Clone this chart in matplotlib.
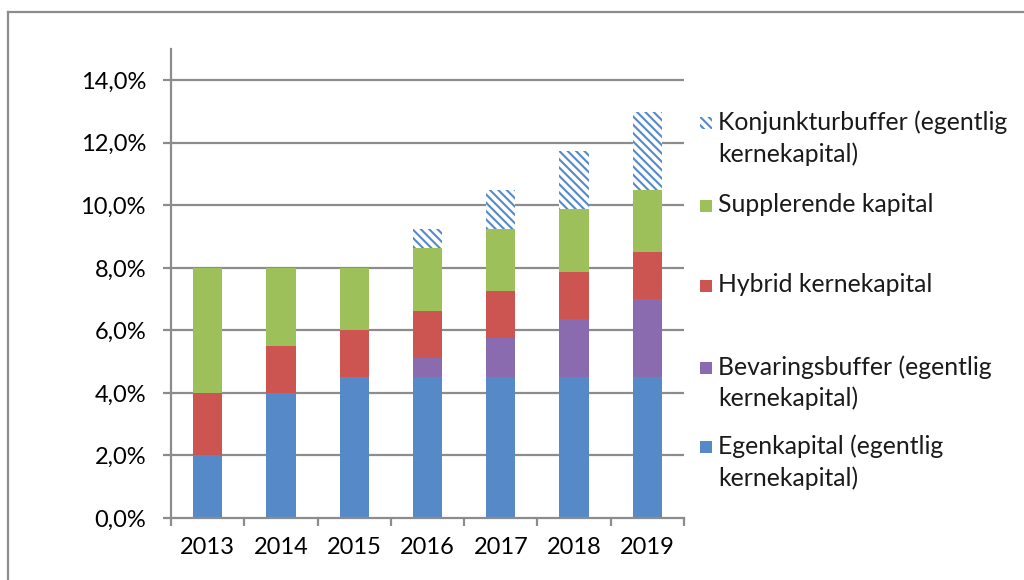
import matplotlib.pyplot as plt
from matplotlib.patches import Rectangle
from matplotlib.lines import Line2D
import numpy as np

plt.rcParams['font.family'] = ['Lato', 'DejaVu Sans']
plt.rcParams['hatch.linewidth'] = 1.5

# data (percent of risk weighted assets)
years = ['2013', '2014', '2015', '2016', '2017', '2018', '2019']
egenkapital = [2.0, 4.0, 4.5, 4.5, 4.5, 4.5, 4.5]
bevaringsbuffer = [0.0, 0.0, 0.0, 0.625, 1.25, 1.875, 2.5]
hybrid = [2.0, 1.5, 1.5, 1.5, 1.5, 1.5, 1.5]
supplerende = [4.0, 2.5, 2.0, 2.0, 2.0, 2.0, 2.0]
konjunktur = [0.0, 0.0, 0.0, 0.625, 1.25, 1.875, 2.5]

labels = ['Egenkapital (egentlig\nkernekapital)',
          'Bevaringsbuffer (egentlig\nkernekapital)',
          'Hybrid kernekapital',
          'Supplerende kapital',
          'Konjunkturbuffer (egentlig\nkernekapital)']
colors = ['#5689C8', '#8A6BAF', '#CC5552', '#9DC05B', '#5689C8']
gray = '#8C8C8C'
fs = 17
fs_leg = 17.8
hatch = '\\\\\\\\'

fig = plt.figure(figsize=(10.24, 5.8), dpi=100)
ax = fig.add_axes([171/1024, 1-518/580, 513/1024, 469/580])

x = np.arange(len(years))
series = [egenkapital, bevaringsbuffer, hybrid, supplerende]
bottom = np.zeros(len(years))
for vals, col in zip(series, colors[:4]):
    ax.bar(x, vals, 0.4, bottom=bottom, color=col, linewidth=0, zorder=2)
    bottom = bottom + np.array(vals)
ax.bar(x, konjunktur, 0.4, bottom=bottom, facecolor='white', edgecolor=colors[4],
       hatch=hatch, linewidth=0, zorder=2)

ax.set_xlim(-0.5, 6.5)
ax.set_ylim(0, 15)
yt = np.arange(0, 15, 2)
ax.set_yticks(yt)
ax.set_yticklabels([f"{v:.1f}%".replace('.', ',') for v in yt], fontsize=fs)
for v in yt[1:]:
    ax.axhline(v, color=gray, lw=1.6, zorder=1)

ax.set_xticks(np.arange(-0.5, 7, 1))
ax.set_xticklabels([])
ax.set_xticks(x, minor=True)
ax.set_xticklabels(years, minor=True, fontsize=fs)
ax.tick_params(axis='x', which='major', length=6, width=1.6, color=gray, direction='out')
ax.tick_params(axis='x', which='minor', length=0, pad=14)
ax.tick_params(axis='y', length=6, width=1.6, color=gray, pad=12)

for s in ['top', 'right']:
    ax.spines[s].set_visible(False)
for s in ['left', 'bottom']:
    ax.spines[s].set_color(gray)
    ax.spines[s].set_linewidth(1.6)

# legend drawn by hand, Excel style (marker next to first line)
entry_lines = [[122, 154], [205], [285], [367, 398], [446, 478]]
order = [4, 3, 2, 1, 0]
for idx, ys in zip(order, entry_lines):
    lines = labels[idx].split('\n')
    for ln, yp in zip(lines, ys):
        fig.text(718/1024, 1-yp/580, ln, fontsize=fs_leg, va='center', ha='left', color='#1a1a1a')
    y0 = ys[0] + 1
    if idx == 4:
        r = Rectangle((700/1024, 1-(y0+6)/580), 12/1024, 12/580, transform=fig.transFigure,
                      facecolor='white', edgecolor=colors[4], hatch=hatch, linewidth=0)
    else:
        r = Rectangle((700/1024, 1-(y0+6)/580), 12/1024, 12/580, transform=fig.transFigure,
                      facecolor=colors[idx], linewidth=0)
    fig.add_artist(r)

# outer frame of the chart area
fig.add_artist(Line2D([8/1024, 1], [1-12/580, 1-12/580], color=gray, lw=1.6, transform=fig.transFigure))
fig.add_artist(Line2D([8/1024, 8/1024], [0, 1-12/580], color=gray, lw=1.6, transform=fig.transFigure))

fig.savefig('out.png', dpi=100)
